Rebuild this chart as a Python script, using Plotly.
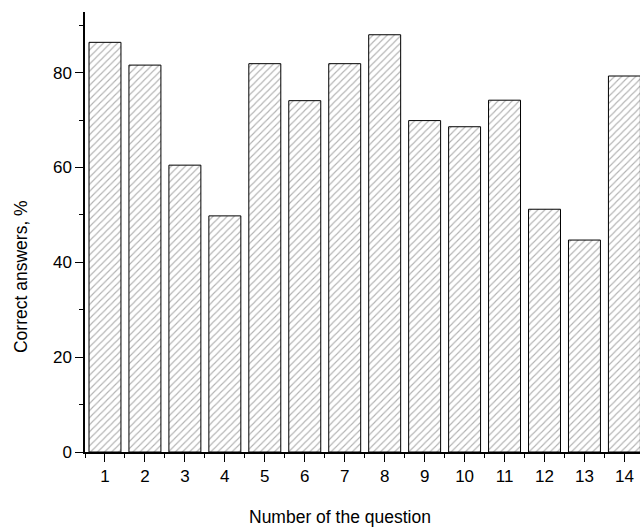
import plotly.graph_objects as go

questions = list(range(1, 15))
tick_labels = [str(q) for q in questions]
correct_pct = [86.4, 81.6, 60.5, 49.8, 81.9, 74.1, 81.9, 88.0, 69.9, 68.6, 74.2, 51.2, 44.7, 79.3]

fig = go.Figure(
    go.Bar(
        x=questions,
        y=correct_pct,
        width=0.8,
        marker=dict(
            color="white",
            line=dict(color="black", width=1),
            pattern=dict(shape="/", fgcolor="#666666", bgcolor="white", size=5, solidity=0.22),
        ),
        showlegend=False,
    )
)

font_family = "Liberation Sans, Arial, sans-serif"

fig.update_layout(
    width=640,
    height=530,
    margin=dict(l=85, r=0, t=12, b=78, autoexpand=False),
    plot_bgcolor="white",
    paper_bgcolor="white",
    font=dict(family=font_family, size=17, color="black"),
    bargap=0.2,
    annotations=[
        dict(text="Number of the question", xref="paper", yref="paper",
             x=0.4595, y=-0.148, xanchor="center", yanchor="middle",
             showarrow=False, font=dict(size=17.5)),
        dict(text="Correct answers, %", xref="paper", yref="paper",
             x=-0.1153, y=0.3977, xanchor="center", yanchor="middle",
             textangle=-90, showarrow=False, font=dict(size=17.5)),
    ],
)

fig.update_xaxes(
    range=[0.5, 14.39],
    tickvals=questions,
    ticktext=tick_labels,
    ticks="outside",
    ticklen=8,
    tickwidth=1,
    tickcolor="black",
    showline=True,
    linecolor="black",
    linewidth=1.5,
    showgrid=False,
    zeroline=False,
    automargin=False,
    minor=dict(tick0=0.5, dtick=1, ticks="outside", ticklen=4, tickcolor="black", tickwidth=1, showgrid=False),
    tickfont=dict(size=17),
)

fig.update_yaxes(
    range=[0, 92.8],
    tick0=0,
    dtick=20,
    ticks="outside",
    ticklen=8,
    tickwidth=1,
    tickcolor="black",
    showline=True,
    linecolor="black",
    linewidth=1.5,
    showgrid=False,
    zeroline=False,
    automargin=False,
    minor=dict(tick0=0, dtick=10, ticks="outside", ticklen=4, tickcolor="black", tickwidth=1, showgrid=False),
    tickfont=dict(size=17),
)

fig.write_html(
    "out.html",
    config={"displayModeBar": False},
    post_script="document.body.style.margin='0';document.body.style.overflow='hidden';",
)
